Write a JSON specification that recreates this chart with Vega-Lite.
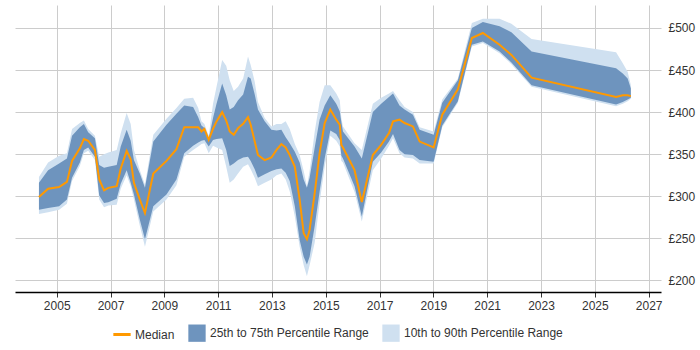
{
  "$schema": "https://vega.github.io/schema/vega-lite/v6.json",
  "autosize": "none",
  "width": 646,
  "height": 287,
  "padding": {"left": 15, "top": 5, "right": 39, "bottom": 58},
  "background": "white",
  "config": {
    "view": {"stroke": null},
    "font": "Liberation Sans",
    "axisY": {
      "title": null,
      "orient": "right",
      "values": [190, 200, 210, 220, 230, 240, 250, 260, 270, 280, 290, 300, 310, 320, 330, 340, 350, 360, 370, 380, 390, 400, 410, 420, 430, 440, 450, 460, 470, 480, 490, 500, 510, 520],
      "labelExpr": "datum.value % 50 === 0 ? '£' + datum.value : ''",
      "domain": false,
      "ticks": false,
      "labelPadding": 7,
      "labelFont": "Liberation Sans",
      "labelFontSize": 12,
      "labelColor": "#333333",
      "labelOverlap": false,
      "labelBound": false,
      "grid": true,
      "gridWidth": 1,
      "gridColor": {"condition": {"test": "datum.value % 50 === 0", "value": "#cccccc"}, "value": "#e6e6e6"}
    }
  },
  "data": {
    "values": [
      {"year": 2004.34, "med": 299, "p25": 284, "p75": 316, "p10": 279, "p90": 323},
      {"year": 2004.68, "med": 309, "p25": 286, "p75": 331, "p10": 281, "p90": 340},
      {"year": 2005.09, "med": 311, "p25": 288, "p75": 339, "p10": 284, "p90": 348},
      {"year": 2005.38, "med": 317, "p25": 296, "p75": 345, "p10": 291, "p90": 351},
      {"year": 2005.57, "med": 342, "p25": 322, "p75": 372, "p10": 318, "p90": 380},
      {"year": 2005.86, "med": 357, "p25": 340, "p75": 382, "p10": 336, "p90": 387},
      {"year": 2006.01, "med": 368, "p25": 355, "p75": 386, "p10": 351, "p90": 390},
      {"year": 2006.17, "med": 366, "p25": 358, "p75": 376, "p10": 354, "p90": 380},
      {"year": 2006.42, "med": 355, "p25": 347, "p75": 369, "p10": 343, "p90": 372},
      {"year": 2006.58, "med": 320, "p25": 301, "p75": 337, "p10": 296, "p90": 347},
      {"year": 2006.76, "med": 307, "p25": 292, "p75": 334, "p10": 287, "p90": 350},
      {"year": 2006.92, "med": 310, "p25": 293, "p75": 335, "p10": 289, "p90": 352},
      {"year": 2007.23, "med": 312, "p25": 297, "p75": 337, "p10": 290, "p90": 355},
      {"year": 2007.38, "med": 333, "p25": 315, "p75": 359, "p10": 309, "p90": 375},
      {"year": 2007.6, "med": 354, "p25": 331, "p75": 379, "p10": 325, "p90": 399},
      {"year": 2007.75, "med": 344, "p25": 316, "p75": 366, "p10": 312, "p90": 386},
      {"year": 2007.87, "med": 316, "p25": 302, "p75": 343, "p10": 296, "p90": 355},
      {"year": 2008.09, "med": 296, "p25": 272, "p75": 327, "p10": 265, "p90": 331},
      {"year": 2008.28, "med": 280, "p25": 249, "p75": 310, "p10": 240, "p90": 314},
      {"year": 2008.59, "med": 327, "p25": 288, "p75": 365, "p10": 282, "p90": 373},
      {"year": 2009.08, "med": 342, "p25": 302, "p75": 385, "p10": 296, "p90": 392},
      {"year": 2009.45, "med": 356, "p25": 320, "p75": 398, "p10": 313, "p90": 405},
      {"year": 2009.74, "med": 382, "p25": 351, "p75": 408, "p10": 347, "p90": 416},
      {"year": 2010.07, "med": 382, "p25": 360, "p75": 406, "p10": 355, "p90": 417},
      {"year": 2010.26, "med": 382, "p25": 364, "p75": 394, "p10": 359, "p90": 405},
      {"year": 2010.38, "med": 377, "p25": 366, "p75": 384, "p10": 362, "p90": 389},
      {"year": 2010.49, "med": 380, "p25": 367, "p75": 381, "p10": 363, "p90": 386},
      {"year": 2010.65, "med": 367, "p25": 359, "p75": 368, "p10": 351, "p90": 372},
      {"year": 2010.81, "med": 380, "p25": 367, "p75": 393, "p10": 360, "p90": 410},
      {"year": 2010.94, "med": 389, "p25": 368, "p75": 410, "p10": 358, "p90": 430},
      {"year": 2011.15, "med": 400, "p25": 369, "p75": 434, "p10": 355, "p90": 462},
      {"year": 2011.3, "med": 390, "p25": 355, "p75": 420, "p10": 335, "p90": 455},
      {"year": 2011.43, "med": 377, "p25": 336, "p75": 403, "p10": 316, "p90": 438},
      {"year": 2011.58, "med": 373, "p25": 339, "p75": 406, "p10": 320, "p90": 425},
      {"year": 2011.74, "med": 381, "p25": 343, "p75": 414, "p10": 327, "p90": 430},
      {"year": 2011.93, "med": 386, "p25": 346, "p75": 421, "p10": 335, "p90": 440},
      {"year": 2012.11, "med": 394, "p25": 347, "p75": 442, "p10": 338, "p90": 466},
      {"year": 2012.21, "med": 385, "p25": 342, "p75": 440, "p10": 332, "p90": 456},
      {"year": 2012.36, "med": 365, "p25": 332, "p75": 421, "p10": 322, "p90": 436},
      {"year": 2012.48, "med": 349, "p25": 322, "p75": 403, "p10": 312, "p90": 412},
      {"year": 2012.73, "med": 343, "p25": 326, "p75": 389, "p10": 316, "p90": 393},
      {"year": 2012.98, "med": 346, "p25": 330, "p75": 379, "p10": 320, "p90": 383},
      {"year": 2013.17, "med": 355, "p25": 332, "p75": 378, "p10": 325, "p90": 386},
      {"year": 2013.35, "med": 362, "p25": 333, "p75": 379, "p10": 327, "p90": 386},
      {"year": 2013.51, "med": 358, "p25": 328, "p75": 370, "p10": 320, "p90": 389},
      {"year": 2013.66, "med": 349, "p25": 318, "p75": 363, "p10": 306, "p90": 380},
      {"year": 2013.85, "med": 335, "p25": 288, "p75": 353, "p10": 276, "p90": 362},
      {"year": 2014.03, "med": 296, "p25": 248, "p75": 340, "p10": 240, "p90": 349},
      {"year": 2014.18, "med": 256, "p25": 228, "p75": 320, "p10": 218, "p90": 330},
      {"year": 2014.3, "med": 249, "p25": 219, "p75": 310, "p10": 205, "p90": 312},
      {"year": 2014.4, "med": 260, "p25": 228, "p75": 322, "p10": 218, "p90": 330},
      {"year": 2014.59, "med": 304, "p25": 265, "p75": 358, "p10": 245, "p90": 377},
      {"year": 2014.77, "med": 351, "p25": 305, "p75": 391, "p10": 292, "p90": 412},
      {"year": 2014.96, "med": 387, "p25": 345, "p75": 408, "p10": 335, "p90": 432},
      {"year": 2015.17, "med": 403, "p25": 378, "p75": 420, "p10": 372, "p90": 432},
      {"year": 2015.39, "med": 391, "p25": 374, "p75": 410, "p10": 366, "p90": 422},
      {"year": 2015.52, "med": 385, "p25": 367, "p75": 401, "p10": 359, "p90": 414},
      {"year": 2015.58, "med": 361, "p25": 348, "p75": 388, "p10": 342, "p90": 393},
      {"year": 2015.64, "med": 358, "p25": 345, "p75": 377, "p10": 340, "p90": 383},
      {"year": 2016.07, "med": 331, "p25": 312, "p75": 359, "p10": 305, "p90": 363},
      {"year": 2016.34, "med": 293, "p25": 276, "p75": 345, "p10": 270, "p90": 355},
      {"year": 2016.75, "med": 349, "p25": 341, "p75": 400, "p10": 331, "p90": 410},
      {"year": 2017.06, "med": 361, "p25": 352, "p75": 410, "p10": 345, "p90": 417},
      {"year": 2017.35, "med": 375, "p25": 365, "p75": 418, "p10": 360, "p90": 422},
      {"year": 2017.5, "med": 389, "p25": 374, "p75": 422, "p10": 369, "p90": 425},
      {"year": 2017.74, "med": 391, "p25": 355, "p75": 408, "p10": 351, "p90": 414},
      {"year": 2017.93, "med": 387, "p25": 350, "p75": 403, "p10": 346, "p90": 406},
      {"year": 2018.24, "med": 383, "p25": 349, "p75": 397, "p10": 345, "p90": 400},
      {"year": 2018.49, "med": 365, "p25": 343, "p75": 379, "p10": 339, "p90": 382},
      {"year": 2019.01, "med": 358, "p25": 341, "p75": 373, "p10": 339, "p90": 377},
      {"year": 2019.33, "med": 397, "p25": 384, "p75": 411, "p10": 382, "p90": 415},
      {"year": 2019.91, "med": 427, "p25": 413, "p75": 438, "p10": 411, "p90": 440},
      {"year": 2020.43, "med": 488, "p25": 480, "p75": 500, "p10": 478, "p90": 506},
      {"year": 2020.84, "med": 494, "p25": 484, "p75": 507, "p10": 482, "p90": 511},
      {"year": 2021.46, "med": 480, "p25": 472, "p75": 502, "p10": 470, "p90": 511},
      {"year": 2021.9, "med": 468, "p25": 459, "p75": 495, "p10": 457, "p90": 505},
      {"year": 2022.65, "med": 441, "p25": 432, "p75": 472, "p10": 430, "p90": 487},
      {"year": 2025.79, "med": 418, "p25": 409, "p75": 452, "p10": 407, "p90": 471},
      {"year": 2026.04, "med": 420, "p25": 412, "p75": 446, "p10": 410, "p90": 458},
      {"year": 2026.22, "med": 420, "p25": 415, "p75": 440, "p10": 413, "p90": 448},
      {"year": 2026.34, "med": 419, "p25": 417, "p75": 428, "p10": 416, "p90": 432}
    ]
  },
  "encoding": {
    "x": {
      "field": "year",
      "type": "quantitative",
      "scale": {"domain": [2003.45, 2027.46], "nice": false, "zero": false},
      "axis": {
        "title": null,
        "values": [2005, 2007, 2009, 2011, 2013, 2015, 2017, 2019, 2021, 2023, 2025, 2027],
        "format": "d",
        "grid": true,
        "gridColor": "#cccccc",
        "gridWidth": 1,
        "domainColor": "#000000",
        "domainWidth": 1.5,
        "tickColor": "#333333",
        "tickSize": 5,
        "labelPadding": 3,
        "labelFont": "Liberation Sans",
        "labelFontSize": 12,
        "labelColor": "#333333",
        "labelOverlap": false
      }
    }
  },
  "layer": [
    {
      "mark": {"type": "area", "interpolate": "linear"},
      "encoding": {
        "y": {
          "field": "p10",
          "type": "quantitative",
          "title": null,
          "scale": {"domain": [186.2, 527.3], "nice": false, "zero": false}
        },
        "y2": {"field": "p90"},
        "color": {"datum": "10th to 90th Percentile Range"}
      }
    },
    {
      "mark": {"type": "area", "interpolate": "linear"},
      "encoding": {
        "y": {"field": "p25", "type": "quantitative", "title": null},
        "y2": {"field": "p75"},
        "color": {"datum": "25th to 75th Percentile Range"}
      }
    },
    {
      "mark": {"type": "line", "interpolate": "linear", "strokeWidth": 2},
      "encoding": {
        "y": {"field": "med", "type": "quantitative", "title": null},
        "color": {
          "datum": "Median",
          "scale": {
            "domain": ["Median", "25th to 75th Percentile Range", "10th to 90th Percentile Range"],
            "range": ["#FF9900", "#6E94BE", "#CFE0F0"]
          },
          "legend": {
            "title": null,
            "orient": "none",
            "legendX": 101,
            "legendY": 322,
            "direction": "horizontal",
            "labelFont": "Liberation Sans",
            "labelFontSize": 12,
            "labelColor": "#333333",
            "labelOffset": 7,
            "columnPadding": 13,
            "symbolSize": 300,
            "encode": {
              "symbols": {
                "update": {
                  "shape": {"signal": "datum.value === 'Median' ? 'stroke' : 'square'"},
                  "fill": {"scale": "color", "field": "value"},
                  "stroke": {"scale": "color", "field": "value"},
                  "strokeWidth": {"signal": "datum.value === 'Median' ? 3 : 0"},
                  "opacity": {"value": 1},
                  "fillOpacity": {"value": 1},
                  "strokeOpacity": {"value": 1}
                }
              }
            }
          }
        }
      }
    }
  ]
}
